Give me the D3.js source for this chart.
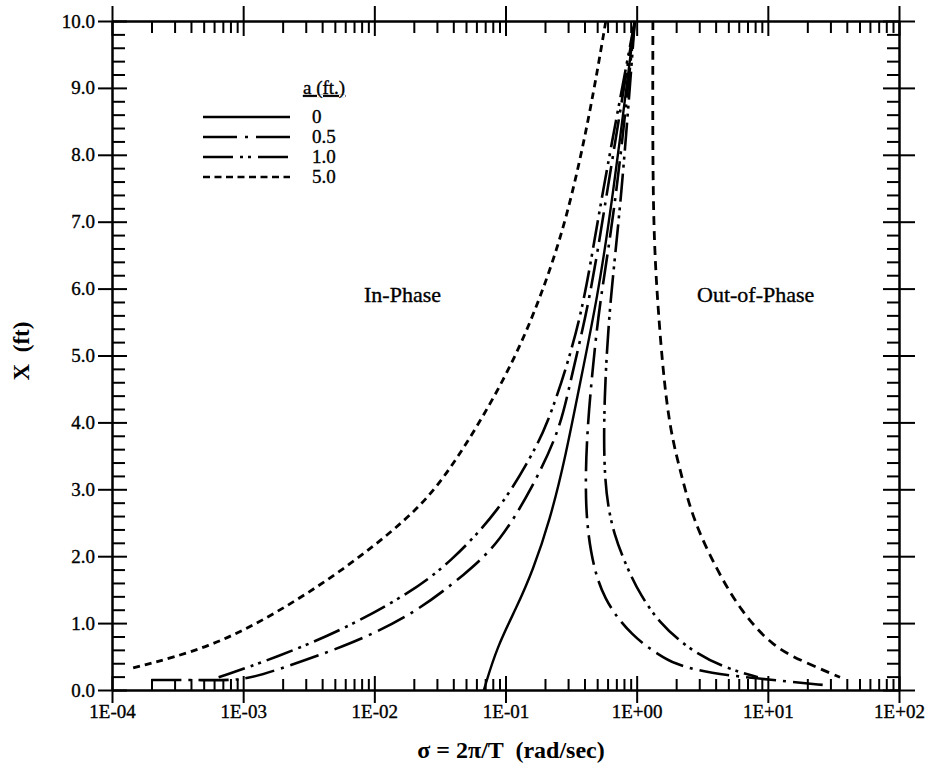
<!DOCTYPE html>
<html>
<head>
<meta charset="utf-8">
<script src="https://cdn.jsdelivr.net/npm/d3@7"></script>
<style>
  body { margin: 0; background: #fff; }
  svg text { font-family: "Liberation Serif", "Times New Roman", serif; fill: #000; }
  .axis path, .axis line { stroke: #000; stroke-width: 2; }
  .ink { stroke: #000; stroke-width: 0.35; }
</style>
</head>
<body>
<svg id="chart" width="936" height="771"></svg>
<script>
// [sigma (rad/sec), X (ft)]
const curveA0 = [[0.0684,0],[0.0859,0.64],[0.122,1.24],[0.162,1.79],[0.218,2.54],[0.284,3.44],[0.389,4.8],[0.498,5.83],[0.647,7.25],[0.968,10]];
const curveA05In = [[2.0e-4,0.15],[5.0e-4,0.15],[1.0e-3,0.14],[1.81e-3,0.30],[5.77e-3,0.64],[0.0187,1.09],[0.0508,1.75],[0.0906,2.21],[0.162,3.04],[0.26,3.89],[0.31,4.59],[0.44,5.83],[0.573,7.25],[0.968,10]];
const curveA05Out = [[0.968,10],[0.693,7.25],[0.525,5.83],[0.463,4.83],[0.417,3.84],[0.403,2.84],[0.44,2.05],[0.552,1.35],[0.935,0.79],[1.5,0.52],[1.89,0.40],[3.43,0.25],[10.9,0.15],[28.2,0.07]];
const curveA10In = [[6.5e-4,0.19],[1.81e-3,0.49],[5.77e-3,0.90],[0.0187,1.45],[0.0377,1.90],[0.0906,2.69],[0.162,3.54],[0.207,3.96],[0.294,4.83],[0.403,5.83],[0.525,7.25],[0.968,10]];
const curveA10Out = [[0.968,10],[0.759,7.25],[0.625,5.83],[0.562,4.33],[0.562,3.09],[0.659,2.32],[0.935,1.64],[1.057,1.45],[1.45,1.02],[2.54,0.60],[4.54,0.34],[8.39,0.19]];
const curveA50In = [[1.45e-4,0.33],[5.58e-4,0.63],[1.81e-3,1.15],[5.77e-3,1.79],[0.0177,2.54],[0.0357,3.18],[0.1026,4.68],[0.183,5.83],[0.294,7.03],[0.44,8.6],[0.582,10]];
const curveA50Out = [[1.33,10],[1.32,7.22],[1.43,5.83],[1.70,4.08],[2.14,3.29],[2.69,2.54],[4.10,1.79],[6.13,1.20],[10.9,0.64],[19.9,0.40],[35.5,0.19]];

const xTickValues = [1e-4, 1e-3, 1e-2, 1e-1, 1, 10, 100];
const xTickLabels = ["1E-04", "1E-03", "1E-02", "1E-01", "1E+00", "1E+01", "1E+02"];
const yTickValues = [0, 1, 2, 3, 4, 5, 6, 7, 8, 9, 10];
const yTickLabels = ["0.0", "1.0", "2.0", "3.0", "4.0", "5.0", "6.0", "7.0", "8.0", "9.0", "10.0"];
const legendLabels = ["0", "0.5", "1.0", "5.0"];

const dashA05 = "30,7,3,7";
const dashA10 = "28,6,3,5,3,6";

const svg = d3.select('#chart');

// scales
const x = d3.scaleLog().domain([1e-4, 1e2]).range([112, 899]);
const y = d3.scaleLinear().domain([0, 10]).range([690, 21]);

// minor tick positions
let minorX = [];
for (let e = -4; e < 2; e++) {
    for (let k = 2; k <= 9; k++) minorX.push(k * Math.pow(10, e));
}
let minorY = d3.range(0, 10.01, 0.2).filter(v => Math.abs(v - Math.round(v)) > 0.01);

// curves, smoothed through the read points
const line = d3.line()
    .x(d => x(d[0]))
    .y(d => y(d[1]))
    .curve(d3.curveBasis);

const curves = [
    {data: curveA0, dash: null, w: 2.4},
    {data: curveA05In, dash: dashA05, w: 2.6},
    {data: curveA05Out, dash: dashA05, w: 2.6},
    {data: curveA10In, dash: dashA10, w: 2.6},
    {data: curveA10Out, dash: dashA10, w: 2.6},
    {data: curveA50In, dash: "7,5", w: 2.8},
    {data: curveA50Out, dash: "9,6", w: 2.8}
];

svg.append('g').selectAll('path')
    .data(curves)
    .enter()
    .append('path')
    .attr('d', d => line(d.data))
    .attr('fill', 'none')
    .attr('stroke', '#000')
    .attr('stroke-width', d => d.w)
    .attr('stroke-dasharray', d => d.dash);

// bottom axis: major ticks cross the line, minor ticks point inward
let gB = svg.append('g').attr('class', 'axis')
    .attr('transform', 'translate(0,' + y(0) + ')')
    .call(d3.axisBottom(x).tickValues(xTickValues).tickFormat((d, i) => xTickLabels[i])
        .tickSize(13).tickSizeOuter(0).tickPadding(2));
gB.selectAll('.tick line').attr('y1', -14);
gB.selectAll('text').attr('font-size', 19).attr('class', 'ink');
svg.append('g').attr('class', 'axis')
    .attr('transform', 'translate(0,' + y(0) + ')')
    .call(d3.axisBottom(x).tickValues(minorX).tickFormat(() => '').tickSize(-11).tickSizeOuter(0));

// top axis
let gT = svg.append('g').attr('class', 'axis')
    .attr('transform', 'translate(0,' + y(10) + ')')
    .call(d3.axisTop(x).tickValues(xTickValues).tickFormat(() => '').tickSize(15).tickSizeOuter(0));
gT.selectAll('.tick line').attr('y1', 15);
svg.append('g').attr('class', 'axis')
    .attr('transform', 'translate(0,' + y(10) + ')')
    .call(d3.axisTop(x).tickValues(minorX).tickFormat(() => '').tickSize(-12).tickSizeOuter(0));

// left axis
let gL = svg.append('g').attr('class', 'axis')
    .attr('transform', 'translate(' + x(1e-4) + ',0)')
    .call(d3.axisLeft(y).tickValues(yTickValues).tickFormat((d, i) => yTickLabels[i])
        .tickSize(14).tickSizeOuter(0).tickPadding(3));
gL.selectAll('.tick line').attr('x1', 15);
gL.selectAll('text').attr('font-size', 19).attr('class', 'ink');
svg.append('g').attr('class', 'axis')
    .attr('transform', 'translate(' + x(1e-4) + ',0)')
    .call(d3.axisLeft(y).tickValues(minorY).tickFormat(() => '').tickSize(-13).tickSizeOuter(0));

// right axis
let gR = svg.append('g').attr('class', 'axis')
    .attr('transform', 'translate(' + x(1e2) + ',0)')
    .call(d3.axisRight(y).tickValues(yTickValues).tickFormat(() => '').tickSize(16).tickSizeOuter(0));
gR.selectAll('.tick line').attr('x1', -16);
svg.append('g').attr('class', 'axis')
    .attr('transform', 'translate(' + x(1e2) + ',0)')
    .call(d3.axisRight(y).tickValues(minorY).tickFormat(() => '').tickSize(-12).tickSizeOuter(0));

d3.selectAll('.axis text').attr('fill', '#000');

// region labels
svg.append('text').attr('class', 'ink').attr('x', 441).attr('y', 302).attr('text-anchor', 'end')
    .attr('font-size', 22).text('In-Phase');
svg.append('text').attr('class', 'ink').attr('x', 697).attr('y', 302)
    .attr('font-size', 22).text('Out-of-Phase');

// axis titles
svg.append('text')
    .attr('transform', 'translate(29,351) rotate(-90)')
    .attr('text-anchor', 'middle')
    .attr('font-size', 23).attr('font-weight', 'bold')
    .style('white-space', 'pre')
    .text('X  (ft)');
svg.append('text')
    .attr('x', 511).attr('y', 758)
    .attr('text-anchor', 'middle')
    .attr('font-size', 24).attr('font-weight', 'bold')
    .style('white-space', 'pre')
    .text('\u03c3 = 2\u03c0/T  (rad/sec)');

// legend
const legend = svg.append('g');
legend.append('text').attr('class', 'ink').attr('x', 303).attr('y', 94)
    .attr('font-size', 19).attr('text-decoration', 'underline').text('a (ft.)');
const legendDash = [null, "34,8,3,8", "30,7,3,5,3,7", "7,4.5"];
legendLabels.forEach((lab, i) => {
    let ly = 117 + i * 20;
    legend.append('line')
        .attr('x1', 203).attr('x2', 290).attr('y1', ly).attr('y2', ly)
        .attr('stroke', '#000').attr('stroke-width', 2.5)
        .attr('stroke-dasharray', legendDash[i]);
    legend.append('text').attr('class', 'ink').attr('x', 312).attr('y', ly + 6)
        .attr('font-size', 19).text(lab);
});
</script>
</body>
</html>
